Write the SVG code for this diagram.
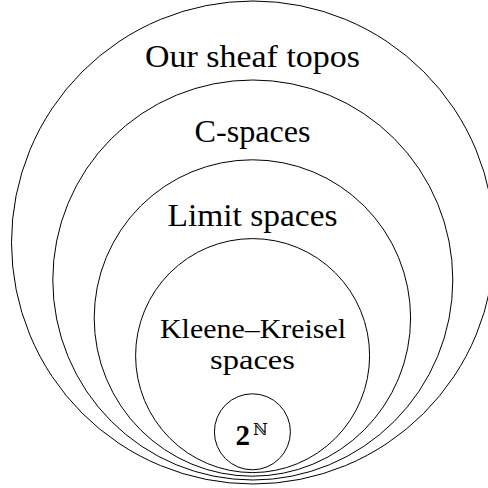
<svg xmlns="http://www.w3.org/2000/svg" width="488" height="488" viewBox="0 0 488 488">
<style>
.c{fill:none;stroke:#000;stroke-width:1}
.t{font-family:"Liberation Serif","Times New Roman",serif;font-size:31px;fill:#000;text-anchor:middle}
.s{font-size:27.5px}
</style>
<rect width="488" height="488" fill="#fff"/>
<g id="sheaf-topos"><circle class="c" cx="253" cy="242.5" r="241.5"/><text class="t" x="252.5" y="67" textLength="215" lengthAdjust="spacingAndGlyphs">Our sheaf topos</text></g>
<g id="c-spaces"><circle class="c" cx="252.8" cy="280" r="200"/><text class="t" x="252.5" y="142" textLength="116" lengthAdjust="spacingAndGlyphs">C-spaces</text></g>
<g id="limit-spaces"><circle class="c" cx="252.4" cy="318" r="158.2"/><text class="t" x="252.5" y="226" textLength="170" lengthAdjust="spacingAndGlyphs">Limit spaces</text></g>
<g id="kk-spaces"><circle class="c" cx="252.6" cy="355.6" r="117"/><text class="t s" x="253" y="338" textLength="186" lengthAdjust="spacingAndGlyphs">Kleene–Kreisel</text><text class="t s" x="252.5" y="369" textLength="85" lengthAdjust="spacingAndGlyphs">spaces</text></g>
<g id="cantor"><circle class="c" cx="252.4" cy="431.8" r="38"/><text x="235.5" y="445" style="font-family:'Liberation Serif',serif;font-size:29px;font-weight:bold">2</text><text x="253" y="435" style="font-family:'DejaVu Serif',serif;font-size:16px">ℕ</text></g>
<g id="connectors"/>
</svg>
